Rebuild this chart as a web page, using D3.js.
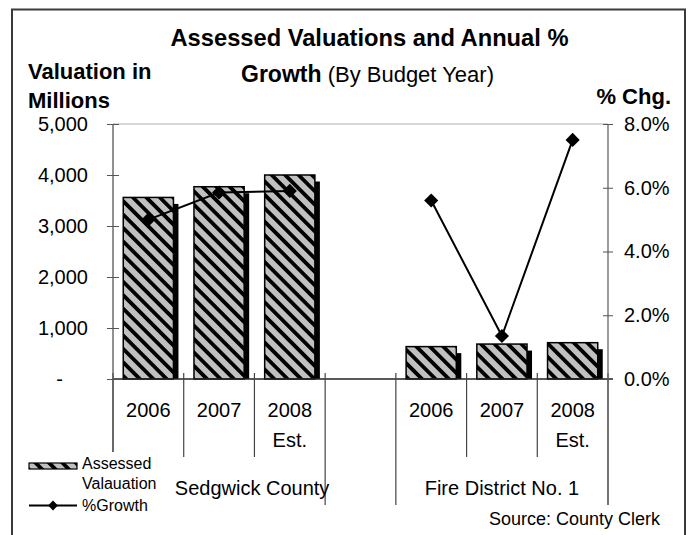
<!DOCTYPE html>
<html>
<head>
<meta charset="utf-8">
<script src="https://cdn.jsdelivr.net/npm/d3@7"></script>
<style>
  html, body { margin: 0; padding: 0; background: #fff; }
  svg { display: block; font-family: "Liberation Sans", Arial, sans-serif; }
</style>
</head>
<body>
<svg id="chart" width="688" height="535"></svg>
<script>
// ---- data ----
const groups = ["Sedgwick County", "Fire District No. 1"];
const years = [["2006"], ["2007"], ["2008", "Est."]];
const sedgwickValuation = [3560, 3770, 4000];
const fireValuation = [635, 685, 712];
const sedgwickGrowth = [5.0, 5.85, 5.9];
const fireGrowth = [5.6, 1.35, 7.5];
const valuationTicks = [0, 1000, 2000, 3000, 4000, 5000];
const growthTicks = [0, 2, 4, 6, 8];

(function () {
// slots: 3 Sedgwick years, one empty slot, 3 Fire District years
const slots = ["S0", "S1", "S2", "gap", "F0", "F1", "F2"];
const barData = [
  ...sedgwickValuation.map((v, i) => ({ slot: "S" + i, v })),
  ...fireValuation.map((v, i) => ({ slot: "F" + i, v }))
];
const lineData = [
  sedgwickGrowth.map((p, i) => ({ slot: "S" + i, p })),
  fireGrowth.map((p, i) => ({ slot: "F" + i, p }))
];

const svg = d3.select("#chart");
const pLeft = 113, pRight = 608, pTop = 124, base = 379;

const x = d3.scaleBand().domain(slots).range([pLeft, pRight]).padding(0);
const y = d3.scaleLinear().domain([0, 5000]).range([base, pTop]);
const y2 = d3.scaleLinear().domain([0, 8]).range([base, pTop]);

// pattern
const defs = svg.append("defs");
const pat = defs.append("pattern")
  .attr("id", "hatch").attr("patternUnits", "userSpaceOnUse")
  .attr("width", 9.5).attr("height", 9.5)
  .attr("patternTransform", "rotate(-45)");
pat.append("rect").attr("width", 9.5).attr("height", 9.5).attr("fill", "#c0c0c0");
pat.append("rect").attr("x", 0).attr("width", 3.8).attr("height", 9.5).attr("fill", "#000");

// outer frame
svg.append("rect").attr("x", 12).attr("y", 9.5).attr("width", 673).attr("height", 540)
  .attr("fill", "none").attr("stroke", "#3a3a3a").attr("stroke-width", 2);

// top border of plot area
svg.append("line").attr("x1", pLeft).attr("x2", pRight).attr("y1", pTop).attr("y2", pTop)
  .attr("stroke", "#b0b0b0").attr("stroke-width", 1.2);

// bars
const bw = x.bandwidth() * 0.71;
const bx = d => x(d.slot) + (x.bandwidth() - bw) / 2;
svg.append("g").selectAll("rect").data(barData).join("rect")
  .attr("x", d => bx(d) + 5).attr("y", d => y(d.v) + 6.5)
  .attr("width", bw).attr("height", d => base - y(d.v) - 6.5)
  .attr("fill", "#000");
svg.append("g").selectAll("rect").data(barData).join("rect")
  .attr("x", d => bx(d)).attr("y", d => y(d.v))
  .attr("width", bw).attr("height", d => base - y(d.v))
  .attr("fill", "url(#hatch)").attr("stroke", "#000").attr("stroke-width", 1.5);

// x axis baseline
svg.append("line").attr("x1", pLeft).attr("x2", pRight + 5).attr("y1", base).attr("y2", base)
  .attr("stroke", "#222").attr("stroke-width", 1.5);

// category separators
const yearBounds = [1, 2, 5, 6].map(i => x(slots[i]));
svg.append("g").selectAll("line").data(yearBounds).join("line")
  .attr("x1", d => d).attr("x2", d => d).attr("y1", base - 6).attr("y2", 457)
  .attr("stroke", "#444").attr("stroke-width", 1.2);
const groupBounds = [x("S0"), x("S2") + x.bandwidth(), x("F0"), x("F2") + x.bandwidth()];
svg.append("g").selectAll("line").data(groupBounds).join("line")
  .attr("x1", d => d).attr("x2", d => d).attr("y1", base - 6).attr("y2", 505)
  .attr("stroke", "#444").attr("stroke-width", 1.2);

// left & right axis lines
svg.append("line").attr("x1", pLeft).attr("x2", pLeft).attr("y1", pTop).attr("y2", 505)
  .attr("stroke", "#555").attr("stroke-width", 1.3);
svg.append("line").attr("x1", pRight).attr("x2", pRight).attr("y1", pTop).attr("y2", 505)
  .attr("stroke", "#666").attr("stroke-width", 1.3);

// left axis
const la = svg.append("g").attr("transform", `translate(${pLeft},0)`)
  .call(d3.axisLeft(y).tickValues(valuationTicks).tickSizeInner(6).tickSizeOuter(0).tickPadding(19)
    .tickFormat(d => d === 0 ? "-" : d3.format(",")(d)));
la.select(".domain").remove();
la.selectAll(".tick line").attr("x1", -6).attr("x2", 6).attr("stroke", "#555");
la.selectAll(".tick text").attr("font-size", 20).attr("fill", "#000")
  .attr("font-family", "Liberation Sans, Arial, sans-serif")
  .filter(d => d === 0).attr("x", -50);

// right axis
const ra = svg.append("g").attr("transform", `translate(${pRight},0)`)
  .call(d3.axisRight(y2).tickValues(growthTicks).tickSizeInner(5).tickSizeOuter(0).tickPadding(11)
    .tickFormat(d => d.toFixed(1) + "%"));
ra.select(".domain").remove();
ra.selectAll(".tick line").attr("x1", -5).attr("x2", 5).attr("stroke", "#555");
ra.selectAll(".tick text").attr("font-size", 20).attr("fill", "#000")
  .attr("font-family", "Liberation Sans, Arial, sans-serif");

// growth lines
const cx = d => x(d.slot) + x.bandwidth() / 2;
const line = d3.line().x(cx).y(d => y2(d.p));
svg.append("g").selectAll("path").data(lineData).join("path")
  .attr("d", line).attr("fill", "none").attr("stroke", "#000").attr("stroke-width", 2);
svg.append("g").selectAll("rect").data(lineData.flat()).join("rect")
  .attr("x", -5).attr("y", -5).attr("width", 10).attr("height", 10)
  .attr("transform", d => `translate(${cx(d)},${y2(d.p)}) rotate(45)`)
  .attr("fill", "#000");

// year labels
const yearSlots = ["S0", "S1", "S2", "F0", "F1", "F2"];
const yl = svg.append("g").attr("font-size", 20).attr("text-anchor", "middle");
yearSlots.forEach((s, i) => {
  const t = yl.append("text").attr("x", x(s) + x.bandwidth() / 2).attr("y", 417);
  years[i % 3].forEach((ln, j) => {
    t.append("tspan").attr("x", x(s) + x.bandwidth() / 2).attr("dy", j === 0 ? 0 : 30).text(ln);
  });
});

// legend (white box covers the axis line)
const lg = svg.append("g");
lg.append("rect").attr("x", 24).attr("y", 452).attr("width", 138).attr("height", 66).attr("fill", "#fff");
lg.append("rect").attr("x", 29).attr("y", 463).attr("width", 48).attr("height", 6)
  .attr("fill", "url(#hatch)").attr("stroke", "#000").attr("stroke-width", 1.2);
lg.append("line").attr("x1", 29).attr("x2", 77).attr("y1", 505.5).attr("y2", 505.5)
  .attr("stroke", "#000").attr("stroke-width", 2);
lg.append("rect").attr("x", -3.5).attr("y", -3.5).attr("width", 7).attr("height", 7)
  .attr("transform", "translate(53,505.5) rotate(45)").attr("fill", "#000");
const lt = lg.append("g").attr("font-size", 16).attr("fill", "#000");
lt.append("text").attr("x", 82).attr("y", 469).text("Assessed");
lt.append("text").attr("x", 82).attr("y", 488.5).text("Valauation");
lt.append("text").attr("x", 82).attr("y", 511).text("%Growth");

// group labels
const gl = svg.append("g").attr("font-size", 20).attr("text-anchor", "middle");
gl.append("text").attr("x", (groupBounds[0] + groupBounds[1]) / 2 + 33).attr("y", 495).text(groups[0]);
gl.append("text").attr("x", (groupBounds[2] + groupBounds[3]) / 2).attr("y", 495).text(groups[1]);

// titles
svg.append("text").attr("x", 369.5).attr("y", 45.7).attr("text-anchor", "middle")
  .attr("font-size", 23.7).attr("font-weight", "bold").text("Assessed Valuations and Annual %");
const t2 = svg.append("text").attr("x", 367.5).attr("y", 81.7).attr("text-anchor", "middle");
t2.append("tspan").attr("font-size", 23).attr("font-weight", "bold").text("Growth");
t2.append("tspan").attr("font-size", 22).text(" (By Budget Year)");

svg.append("text").attr("x", 28).attr("y", 78.5).attr("font-size", 22).attr("font-weight", "bold").text("Valuation in");
svg.append("text").attr("x", 28).attr("y", 107.5).attr("font-size", 22).attr("font-weight", "bold").text("Millions");
svg.append("text").attr("x", 671).attr("y", 103.5).attr("text-anchor", "end")
  .attr("font-size", 22).attr("font-weight", "bold").text("% Chg.");

svg.append("text").attr("x", 660).attr("y", 525).attr("text-anchor", "end")
  .attr("font-size", 18).text("Source: County Clerk");
})();
</script>
</body>
</html>
